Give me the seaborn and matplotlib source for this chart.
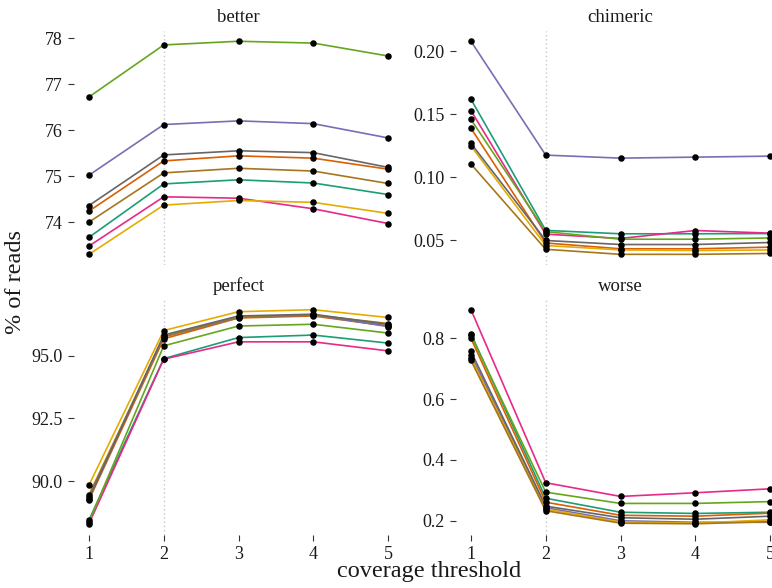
import numpy as np
import pandas as pd
import matplotlib
matplotlib.use("Agg")
import matplotlib.pyplot as plt
import seaborn as sns

# ---- data ----
thresholds = [1, 2, 3, 4, 5]
metrics = ["better", "chimeric", "perfect", "worse"]
series = ["A", "B", "C", "D", "E", "F", "G", "H"]
colors = ["#1b9e77", "#d95f02", "#7570b3", "#e7298a",
          "#66a61e", "#e6ab02", "#a6761d", "#666666"]

better = {
    "A": [73.67, 74.83, 74.92, 74.85, 74.60],
    "B": [74.24, 75.33, 75.44, 75.39, 75.15],
    "C": [75.02, 76.12, 76.20, 76.14, 75.83],
    "D": [73.48, 74.55, 74.52, 74.29, 73.97],
    "E": [76.72, 77.85, 77.93, 77.89, 77.61],
    "F": [73.30, 74.37, 74.47, 74.43, 74.19],
    "G": [74.00, 75.07, 75.17, 75.11, 74.84],
    "H": [74.36, 75.46, 75.55, 75.51, 75.19],
}
chimeric = {
    "A": [0.162, 0.058, 0.0553, 0.0553, 0.0555],
    "B": [0.139, 0.048, 0.0434, 0.0434, 0.0447],
    "C": [0.208, 0.1177, 0.1153, 0.1161, 0.1169],
    "D": [0.153, 0.055, 0.0516, 0.0579, 0.0558],
    "E": [0.146, 0.057, 0.051, 0.051, 0.052],
    "F": [0.125, 0.046, 0.0425, 0.042, 0.0425],
    "G": [0.1106, 0.043, 0.039, 0.039, 0.0397],
    "H": [0.127, 0.050, 0.0468, 0.0468, 0.0484],
}
perfect = {
    "A": [88.45, 94.88, 95.72, 95.82, 95.50],
    "B": [89.25, 95.67, 96.50, 96.58, 96.18],
    "C": [89.35, 95.75, 96.52, 96.62, 96.16],
    "D": [88.30, 94.86, 95.55, 95.55, 95.19],
    "E": [88.38, 95.39, 96.18, 96.25, 95.90],
    "F": [89.84, 96.00, 96.75, 96.83, 96.52],
    "G": [89.45, 95.75, 96.55, 96.62, 96.28],
    "H": [89.30, 95.82, 96.58, 96.65, 96.24],
}
worse = {
    "A": [0.815, 0.274, 0.228, 0.224, 0.228],
    "B": [0.800, 0.261, 0.218, 0.215, 0.225],
    "C": [0.745, 0.243, 0.200, 0.195, 0.195],
    "D": [0.894, 0.325, 0.280, 0.292, 0.305],
    "E": [0.810, 0.294, 0.257, 0.257, 0.263],
    "F": [0.735, 0.238, 0.196, 0.192, 0.203],
    "G": [0.727, 0.233, 0.192, 0.190, 0.197],
    "H": [0.757, 0.248, 0.210, 0.205, 0.215],
}
yticks = {
    "better": [74, 75, 76, 77, 78],
    "chimeric": [0.05, 0.10, 0.15, 0.20],
    "perfect": [90.0, 92.5, 95.0],
    "worse": [0.2, 0.4, 0.6, 0.8],
}
yfmt = {"better": "{:.0f}", "chimeric": "{:.2f}", "perfect": "{:.1f}", "worse": "{:.1f}"}

tables = {"better": better, "chimeric": chimeric, "perfect": perfect, "worse": worse}
rows = []
for m in metrics:
    for s in series:
        for t, v in zip(thresholds, tables[m][s]):
            rows.append({"metric": m, "series": s, "threshold": t, "value": v})
df = pd.DataFrame(rows)

# ---- plot ----
sns.set_theme(style="white")
plt.rcParams["font.family"] = ["Liberation Serif", "DejaVu Serif"]

fig = plt.figure(figsize=(7.72, 5.88), dpi=100)
W, H = 772, 588
boxes = {
    "better": (74, 30.6, 329, 234.4),
    "chimeric": (456, 30.6, 329, 234.4),
    "perfect": (74, 299, 329, 235.5),
    "worse": (456, 299, 329, 235.5),
}
for m in metrics:
    x0, y0, w, h = boxes[m]
    ax = fig.add_axes([x0 / W, 1 - (y0 + h) / H, w / W, h / H])
    sub = df[df.metric == m]
    ax.axvline(2, color="#c8c8c8", lw=1.0, ls=(0, (1, 2)), zorder=0)
    sns.lineplot(data=sub, x="threshold", y="value", hue="series",
                 hue_order=series, palette=colors, lw=1.2, legend=False,
                 estimator=None, ax=ax, zorder=2)
    sns.scatterplot(data=sub, x="threshold", y="value", color="black",
                    s=22, linewidth=0, ax=ax, zorder=3)
    ax.margins(x=0.05, y=0.05)
    for sp in ax.spines.values():
        sp.set_visible(False)
    top_row = m in ("better", "chimeric")
    ax.set_xticks(thresholds)
    ax.set_xticklabels([str(t) for t in thresholds])
    ax.set_yticks(yticks[m])
    ax.set_yticklabels([yfmt[m].format(v) for v in yticks[m]])
    ax.tick_params(axis="both", which="major", length=4, width=0.8,
                   color="#333333", labelsize=13, pad=4, labelcolor="#1a1a1a",
                   left=True, bottom=not top_row, labelbottom=not top_row)
    ax.set_xlabel("")
    ax.set_ylabel("")
    ax.set_title(m, fontsize=13.5, pad=6, color="#1a1a1a")
    ax.set_facecolor("none")

fig.text(429.5 / W, 1 - 572 / H, "coverage threshold", ha="center", va="center",
         fontsize=17.5, color="#1a1a1a")
fig.text(16 / W, 1 - 282 / H, "% of reads", ha="center", va="center",
         rotation=90, fontsize=17.5, color="#1a1a1a")

fig.savefig("out.png", dpi=100)
